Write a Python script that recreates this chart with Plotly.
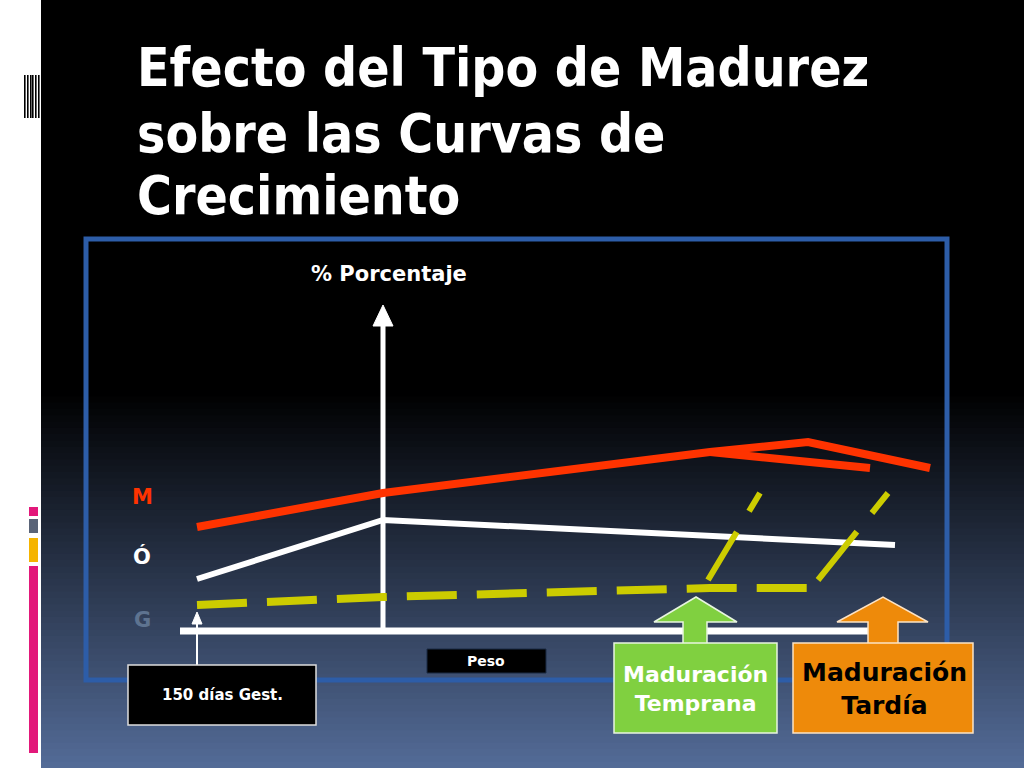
import plotly.graph_objects as go

# diagram coordinates (slide space, y grows downward)
curve_m_x = [197, 383, 710, 808, 930]
curve_m_y = [527, 493, 452, 442, 468]
branch_m_x = [710, 870]
branch_m_y = [452, 468]
curve_o_x = [197, 383, 895]
curve_o_y = [579, 520, 545]
curve_g_x = [197, 383, 710, 812]
curve_g_y = [605, 597, 588, 588]
early_x = [708, 760]
early_y = [580, 493]
late_x = [818, 888]
late_y = [580, 493]

axis_x = [180, 868]
axis_y = [631, 631]
vaxis_x = [383, 383]
vaxis_y = [631, 322]

title_lines = ["Efecto del Tipo de Madurez", "sobre las Curvas de", "Crecimiento"]
title_y = [67, 133, 195]
side_labels = ["M", "Ó", "G"]
side_colors = ["#FF3300", "#FFFFFF", "#5E7390"]
side_y = [497, 556, 620]

FONT = "DejaVu Sans Condensed, Liberation Sans Narrow, DejaVu Sans, sans-serif"
FONT2 = "DejaVu Sans, sans-serif"

fig = go.Figure()
shapes = []

# background gradient
shapes.append(dict(type="rect", x0=0, x1=1024, y0=0, y1=768, fillcolor="#000000", line_width=0, layer="below"))
n = 60
top, bottom = 390, 768
c0, c1 = (0, 0, 0), (84, 108, 152)
for i in range(n):
    t = (i + 0.5) / n
    col = tuple(int(c0[k] + (c1[k] - c0[k]) * t) for k in range(3))
    y0 = top + (bottom - top) * i / n
    y1 = top + (bottom - top) * (i + 1) / n + 1
    shapes.append(dict(type="rect", x0=0, x1=1024, y0=y0, y1=y1,
                       fillcolor="rgb(%d,%d,%d)" % col, line_width=0, layer="below"))

# white strip on the left
shapes.append(dict(type="rect", x0=0, x1=41, y0=0, y1=768, fillcolor="#FFFFFF", line_width=0, layer="below"))
for bx in [24, 27, 30, 32, 35, 38]:
    shapes.append(dict(type="rect", x0=bx, x1=bx + 1.6, y0=75, y1=118, fillcolor="#000000", line_width=0, layer="below"))
shapes.append(dict(type="rect", x0=29, x1=38, y0=507, y1=516, fillcolor="#E2187A", line_width=0, layer="below"))
shapes.append(dict(type="rect", x0=29, x1=38, y0=519, y1=533, fillcolor="#5A6478", line_width=0, layer="below"))
shapes.append(dict(type="rect", x0=29, x1=38, y0=538, y1=562, fillcolor="#F5B400", line_width=0, layer="below"))
shapes.append(dict(type="rect", x0=29, x1=38, y0=566, y1=753, fillcolor="#E2187A", line_width=0, layer="below"))

# blue frame
shapes.append(dict(type="rect", x0=86, x1=947, y0=239, y1=680, line=dict(color="#2D5DA8", width=5),
                   fillcolor="rgba(0,0,0,0)", layer="below"))

# boxes
shapes.append(dict(type="rect", x0=427, x1=546, y0=649, y1=673, fillcolor="#000000", line=dict(color="#1a2a44", width=1)))
shapes.append(dict(type="rect", x0=128, x1=316, y0=665, y1=725, fillcolor="#000000", line=dict(color="#DDDDDD", width=1.5)))
shapes.append(dict(type="rect", x0=614, x1=777, y0=643, y1=733, fillcolor="#80D040", line=dict(color="#E8F5E0", width=1.5)))
shapes.append(dict(type="rect", x0=793, x1=973, y0=643, y1=733, fillcolor="#EE8A0A", line=dict(color="#FCE3C5", width=1.5)))

# axes
fig.add_trace(go.Scatter(x=axis_x, y=axis_y, mode="lines", line=dict(color="white", width=7), hoverinfo="skip"))
fig.add_trace(go.Scatter(x=vaxis_x, y=vaxis_y, mode="lines", line=dict(color="white", width=5), hoverinfo="skip"))
fig.add_trace(go.Scatter(x=[373, 383, 393, 373], y=[326, 305, 326, 326], mode="lines", fill="toself",
                         fillcolor="white", line=dict(color="white", width=1), hoverinfo="skip"))
fig.add_trace(go.Scatter(x=[197, 197], y=[665, 620], mode="lines", line=dict(color="white", width=2), hoverinfo="skip"))
fig.add_trace(go.Scatter(x=[192, 197, 202, 192], y=[624, 612, 624, 624], mode="lines", fill="toself",
                         fillcolor="white", line=dict(color="white", width=1), hoverinfo="skip"))

# curves
fig.add_trace(go.Scatter(x=curve_o_x, y=curve_o_y, mode="lines", line=dict(color="white", width=6), hoverinfo="skip"))
fig.add_trace(go.Scatter(x=curve_g_x, y=curve_g_y, mode="lines", line=dict(color="#CCCC00", width=8, dash="50px,20px"), hoverinfo="skip"))
fig.add_trace(go.Scatter(x=early_x, y=early_y, mode="lines", line=dict(color="#CCCC00", width=6, dash="56px,24px"), hoverinfo="skip"))
fig.add_trace(go.Scatter(x=late_x, y=late_y, mode="lines", line=dict(color="#CCCC00", width=6, dash="62px,24px"), hoverinfo="skip"))
fig.add_trace(go.Scatter(x=curve_m_x, y=curve_m_y, mode="lines", line=dict(color="#FF3300", width=8), hoverinfo="skip"))
fig.add_trace(go.Scatter(x=branch_m_x, y=branch_m_y, mode="lines", line=dict(color="#FF3300", width=8), hoverinfo="skip"))

# block arrows
fig.add_trace(go.Scatter(x=[683, 683, 654, 696, 737, 707, 707, 683], y=[644, 622, 622, 597, 622, 622, 644, 644],
                         mode="lines", fill="toself", fillcolor="#80D040", line=dict(color="#E8F5E0", width=1.5), hoverinfo="skip"))
fig.add_trace(go.Scatter(x=[868, 868, 837, 883, 928, 898, 898, 868], y=[644, 622, 622, 597, 622, 622, 644, 644],
                         mode="lines", fill="toself", fillcolor="#EE8A0A", line=dict(color="#FCE3C5", width=1.5), hoverinfo="skip"))

annotations = []
for line, yy in zip(title_lines, title_y):
    annotations.append(dict(x=135, y=yy, text="<b>%s</b>" % line, showarrow=False,
                            xanchor="left", yanchor="middle", font=dict(family=FONT, size=53, color="white")))
for lab, col, yy in zip(side_labels, side_colors, side_y):
    annotations.append(dict(x=142, y=yy, text="<b>%s</b>" % lab, showarrow=False,
                            font=dict(family=FONT2, size=21, color=col)))
annotations.append(dict(x=389, y=274, text="<b>% Porcentaje</b>", showarrow=False,
                        font=dict(family=FONT2, size=21, color="white")))
annotations.append(dict(x=486, y=661, text="<b>Peso</b>", showarrow=False,
                        font=dict(family=FONT2, size=14, color="white")))
annotations.append(dict(x=222, y=695, text="<b>150 días Gest.</b>", showarrow=False,
                        font=dict(family=FONT2, size=15, color="white")))
annotations.append(dict(x=695, y=689, text="<b>Maduración<br>Temprana</b>", showarrow=False,
                        font=dict(family=FONT2, size=22, color="white")))
annotations.append(dict(x=884, y=689, text="<b>Maduración<br>Tardía</b>", showarrow=False,
                        font=dict(family=FONT2, size=25, color="black")))

fig.update_layout(
    width=1024, height=768,
    margin=dict(l=0, r=0, t=0, b=0),
    paper_bgcolor="black", plot_bgcolor="black",
    showlegend=False,
    shapes=shapes,
    annotations=annotations,
    xaxis=dict(range=[0, 1024], visible=False, fixedrange=True),
    yaxis=dict(range=[768, 0], visible=False, fixedrange=True),
)

fig.write_html("out.html", config={"displayModeBar": False},
               post_script="document.body.style.margin='0px';")
